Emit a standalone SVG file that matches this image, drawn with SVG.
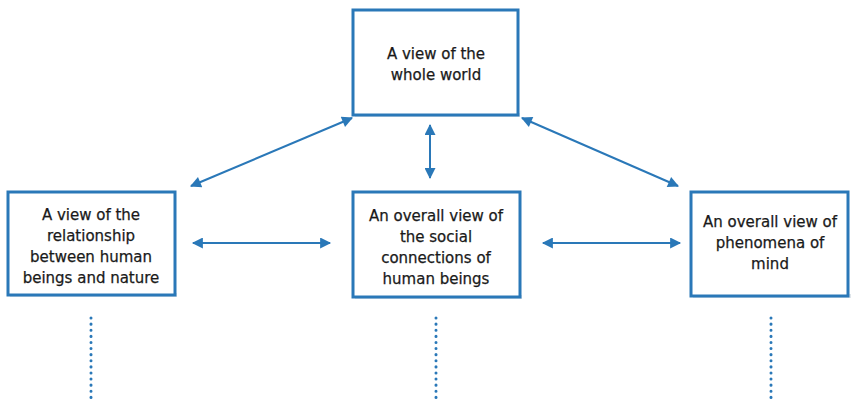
<svg xmlns="http://www.w3.org/2000/svg" width="851" height="399" viewBox="0 0 851 399">
<style>
.box{fill:#fff;stroke:#2a78b8;stroke-width:3}
.shadow{fill:#c9d3dc;opacity:0.6}
.lbl{font-family:"DejaVu Sans",sans-serif;font-size:15px;fill:#1a1a1a;stroke:#1a1a1a;stroke-width:0.25;text-anchor:middle}
.conn{stroke:#2a78b8;stroke-width:2;fill:none}
.dot{stroke:#2a78b8;stroke-width:3;stroke-linecap:round;stroke-dasharray:0.1 6;fill:none}
</style>
<defs>
<marker id="ah" viewBox="0 0 10 10" refX="9" refY="5" markerWidth="13" markerHeight="11" markerUnits="userSpaceOnUse" orient="auto-start-reverse">
<path d="M0,0 L10,5 L0,10 z" fill="#2a78b8"/>
</marker>
</defs>
<g id="connectors">
<line class="conn" x1="191" y1="186" x2="352" y2="118" marker-start="url(#ah)" marker-end="url(#ah)"/>
<line class="conn" x1="522" y1="118" x2="678" y2="186" marker-start="url(#ah)" marker-end="url(#ah)"/>
<line class="conn" x1="430" y1="125" x2="430" y2="178" marker-start="url(#ah)" marker-end="url(#ah)"/>
<line class="conn" x1="193" y1="243" x2="330" y2="243" marker-start="url(#ah)" marker-end="url(#ah)"/>
<line class="conn" x1="543" y1="243" x2="680" y2="243" marker-start="url(#ah)" marker-end="url(#ah)"/>
<line class="dot" x1="91" y1="318" x2="91" y2="399"/>
<line class="dot" x1="436" y1="318" x2="436" y2="399"/>
<line class="dot" x1="771" y1="318" x2="771" y2="399"/>
</g>
<g id="n-world">
<rect class="shadow" x="355" y="113" width="165" height="4"/>
<rect class="box" x="353" y="10" width="165" height="105"/>
<text class="lbl" x="436" y="59">A view of the</text>
<text class="lbl" x="436" y="80">whole world</text>
</g>
<g id="n-nature">
<rect class="shadow" x="10" y="293" width="167" height="4"/>
<rect class="box" x="8" y="192" width="167" height="103"/>
<text class="lbl" x="91" y="220">A view of the</text>
<text class="lbl" x="91" y="241">relationship</text>
<text class="lbl" x="91" y="262">between human</text>
<text class="lbl" x="91" y="283">beings and nature</text>
</g>
<g id="n-social">
<rect class="shadow" x="355" y="295" width="167" height="4"/>
<rect class="box" x="353" y="192" width="167" height="105"/>
<text class="lbl" x="436" y="221">An overall view of</text>
<text class="lbl" x="436" y="242">the social</text>
<text class="lbl" x="436" y="263">connections of</text>
<text class="lbl" x="436" y="284">human beings</text>
</g>
<g id="n-mind">
<rect class="shadow" x="693" y="294" width="158" height="4"/>
<rect class="box" x="691" y="192" width="157" height="104"/>
<text class="lbl" x="770" y="227">An overall view of</text>
<text class="lbl" x="770" y="248">phenomena of</text>
<text class="lbl" x="770" y="269">mind</text>
</g>
</svg>
